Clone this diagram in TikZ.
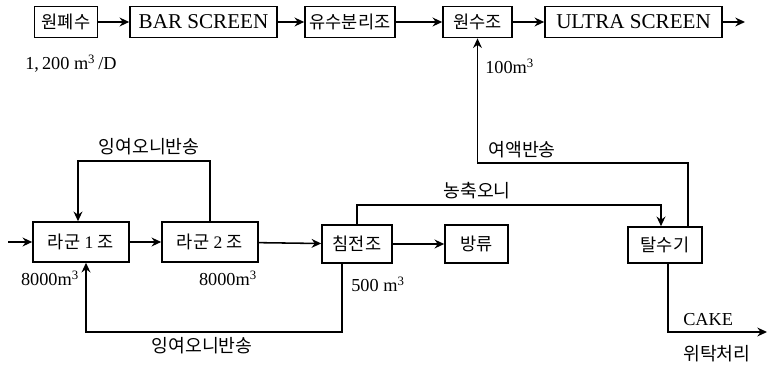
\documentclass[tikz,border=0pt]{standalone}
\usepackage{fontspec}
\setmainfont{Liberation Serif}
\newfontfamily\kr{Noto Sans CJK KR}
\usepackage{tikz}
\usetikzlibrary{arrows.meta}

\begin{document}
\begin{tikzpicture}[x=0.025cm,y=-0.025cm,
  tank/.style={draw,line width=1.1pt,minimum height=0.78cm,inner sep=2pt,
               font=\fontsize{12.5}{14}\selectfont},
  latin/.style={font=\fontsize{15}{17}\selectfont},
  ar/.style={-{Stealth[length=2.4mm,width=2.2mm]},line width=1.1pt},
  lbl/.style={inner sep=0pt,font=\fontsize{13}{15}\selectfont}
]
\useasboundingbox (0,0) rectangle (776,366);

% top line
\node[tank,minimum width=1.575cm] (raw)   at (66,22)    {\kr 원폐수};
\node[tank,latin,minimum width=3.675cm] (bar) at (203.5,22) {BAR SCREEN};
\node[tank,minimum width=2.25cm]  (oil)   at (350,22)   {\kr 유수분리조};
\node[tank,minimum width=1.725cm] (wsrc)  at (477.5,22)  {\kr 원수조};
\node[tank,latin,minimum width=4.425cm] (ultra) at (633.5,22) {ULTRA SCREEN};
\coordinate (out) at (745,22);

% lower line
\coordinate (in) at (8,242);
\node[tank,minimum width=2.4cm,minimum height=1cm]  (lag1)   at (81,242)  {{\kr 라군} 1 {\kr 조}};
\node[tank,minimum width=2.4cm,minimum height=1cm]  (lag2)   at (210,242) {{\kr 라군} 2 {\kr 조}};
\node[tank,minimum width=1.75cm,minimum height=0.95cm] (settle) at (357,244) {\kr 침전조};
\node[tank,minimum width=1.575cm,minimum height=0.95cm] (outflow) at (476.5,244) {\kr 방류};
\node[tank,minimum width=1.85cm,minimum height=0.9cm] (dewater) at (665,245) {\kr 탈수기};
\coordinate (cake) at (767,332);

\draw[ar] (raw) -- (bar);
\draw[ar] (bar) -- (oil);
\draw[ar] (oil) -- (wsrc);
\draw[ar] (wsrc) -- (ultra);
\draw[ar] (ultra) -- (out);

\draw[ar] (in) -- (lag1);
\draw[ar] (lag1) -- (lag2);
\draw[ar] (lag2) -- (settle);
\draw[ar] (settle) -- (outflow);

% return lines
\draw[ar] (lag2.north) -- ++(0,-60) -| ([xshift=-0.075cm]lag1.north);
\draw[ar] ([xshift=-0.375cm]settle.south) -- ++(0,68) -| ([xshift=0.125cm]lag1.south);
\draw[ar] (settle.north) -- ++(0,-19) -| ([xshift=-0.1cm]dewater.north);
\draw[ar] ([xshift=0.575cm]dewater.north) -- ++(0,-63) -| (wsrc.south);
\draw[ar] ([xshift=0.075cm]dewater.south) |- (cake);

% labels
\node[lbl,anchor=west] (q0)   at (25,64)   {1,\,200 m\textsuperscript{3}\,/D};
\node[lbl,anchor=west] (q1)   at (485,66)  {100m\textsuperscript{3}};
\node[lbl] (v1)   at (50,278)  {8000m\textsuperscript{3}};
\node[lbl] (v2)   at (228,278) {8000m\textsuperscript{3}};
\node[lbl] (v3)   at (378,284) {500 m\textsuperscript{3}};
\node[lbl] (ret1) at (149,147) {\kr 잉여오니반송};
\node[lbl] (ret2) at (202,346) {\kr 잉여오니반송};
\node[lbl] (filt) at (522,150) {\kr 여액반송};
\node[lbl] (thick) at (477,191) {\kr 농축오니};
\node[lbl,anchor=west] (cakel) at (683,320) {CAKE};
\node[lbl,anchor=west] (disp)  at (683,354) {\kr 위탁처리};
\end{tikzpicture}
\end{document}
